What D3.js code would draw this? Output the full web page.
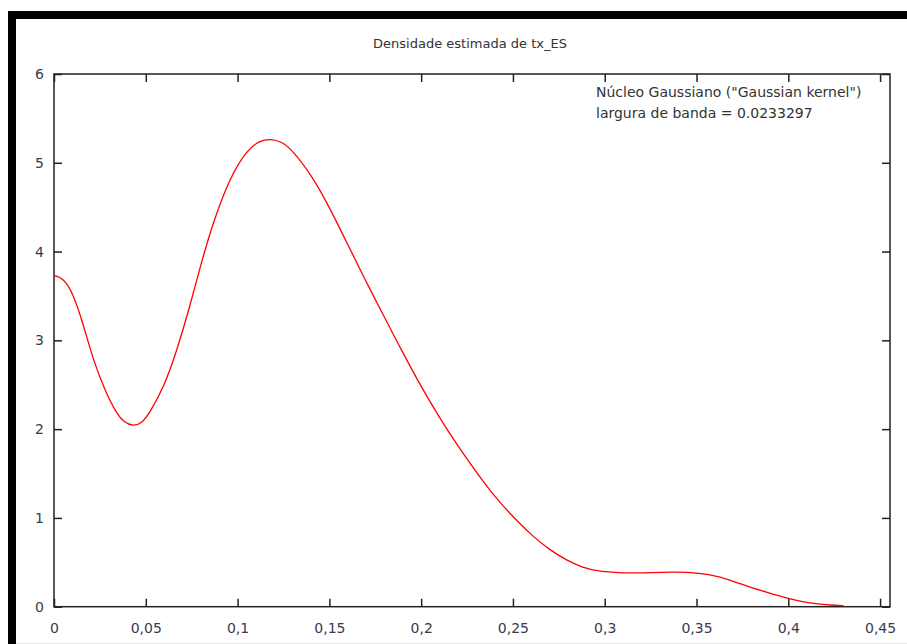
<!DOCTYPE html>
<html>
<head>
<meta charset="utf-8">
<script src="https://cdn.jsdelivr.net/npm/d3@7"></script>
<style>
  body { margin: 0; background: #fff; }
  svg text { font-family: "DejaVu Sans", Verdana, sans-serif; fill: #333; }
</style>
</head>
<body>
<svg id="chart" width="907" height="644"></svg>
<script>
// density curve
const xs = [0, 0.005, 0.01, 0.016, 0.021, 0.028, 0.034, 0.038, 0.043, 0.048, 0.052, 0.06, 0.067, 0.074, 0.08, 0.087, 0.096, 0.105, 0.112, 0.118, 0.124, 0.13, 0.141, 0.15, 0.16, 0.17, 0.178, 0.19, 0.201, 0.21, 0.219, 0.234, 0.243, 0.252, 0.261, 0.27, 0.279, 0.288, 0.297, 0.3156, 0.326, 0.337, 0.352, 0.362, 0.37, 0.38, 0.388, 0.399, 0.407, 0.415, 0.423, 0.43];
const density = [3.73, 3.70, 3.55, 3.18, 2.80, 2.42, 2.18, 2.08, 2.03, 2.07, 2.18, 2.48, 2.89, 3.38, 3.86, 4.35, 4.84, 5.14, 5.25, 5.27, 5.24, 5.14, 4.84, 4.50, 4.08, 3.66, 3.34, 2.86, 2.44, 2.13, 1.84, 1.40, 1.17, 0.97, 0.79, 0.64, 0.526, 0.44, 0.394, 0.376, 0.385, 0.392, 0.38, 0.34, 0.285, 0.215, 0.165, 0.098, 0.058, 0.032, 0.018, 0.012];

const xTicks = [0, 0.05, 0.1, 0.15, 0.2, 0.25, 0.3, 0.35, 0.4, 0.45];
const yTicks = [0, 1, 2, 3, 4, 5, 6];
const title = "Densidade estimada de tx_ES";
const legendLines = ["Núcleo Gaussiano (\"Gaussian kernel\")", "largura de banda = 0.0233297"];

const svg = d3.select("#chart");

// black frame of the screenshot
svg.append("rect").attr("x", 8).attr("y", 11).attr("width", 899).attr("height", 8).attr("fill", "#000");
svg.append("rect").attr("x", 8).attr("y", 11).attr("width", 8).attr("height", 633).attr("fill", "#000");
svg.append("line").attr("x1", 16).attr("x2", 907).attr("y1", 643.5).attr("y2", 643.5)
  .attr("stroke", "#e4e4e4");

const plot = {left: 54, right: 890, top: 74, bottom: 606.7};
const x = d3.scaleLinear().domain([0, 0.4554]).range([plot.left, plot.right]);
const y = d3.scaleLinear().domain([0, 6]).range([plot.bottom, plot.top]);

const fmt = d => String(d).replace(".", ",");
const tickLen = 8;

// bottom and top axes (ticks pointing inward)
svg.append("g").attr("transform", `translate(0,${plot.bottom})`)
  .call(d3.axisBottom(x).tickValues(xTicks).tickSize(-tickLen).tickPadding(16).tickFormat(fmt))
  .call(g => g.select(".domain").remove());
svg.append("g").attr("transform", `translate(0,${plot.top})`)
  .call(d3.axisTop(x).tickValues(xTicks).tickSize(-tickLen).tickFormat(""))
  .call(g => g.select(".domain").remove());
svg.append("g").attr("transform", `translate(${plot.left},0)`)
  .call(d3.axisLeft(y).tickValues(yTicks).tickSize(-tickLen).tickPadding(10).tickFormat(d3.format("d")))
  .call(g => g.select(".domain").remove());
svg.append("g").attr("transform", `translate(${plot.right},0)`)
  .call(d3.axisRight(y).tickValues(yTicks).tickSize(-tickLen).tickFormat(""))
  .call(g => g.select(".domain").remove());

svg.selectAll(".tick line").attr("stroke", "#222").attr("stroke-width", 1.5);
svg.selectAll(".tick text").attr("font-size", 14).style("fill", "#3a3a4a");

// plot border
svg.append("rect")
  .attr("x", plot.left).attr("y", plot.top)
  .attr("width", plot.right - plot.left).attr("height", plot.bottom - plot.top)
  .attr("fill", "none").attr("stroke", "#222").attr("stroke-width", 1.5);

// density line
const pts = xs.map((v, i) => [v, density[i]]);
svg.append("path")
  .datum(pts)
  .attr("fill", "none")
  .attr("stroke", "#ff0000")
  .attr("stroke-width", 1.3)
  .attr("d", d3.line().x(d => x(d[0])).y(d => y(d[1])).curve(d3.curveBasis));

svg.append("text")
  .attr("x", 470).attr("y", 48)
  .attr("text-anchor", "middle")
  .attr("font-size", 13)
  .text(title);

svg.selectAll(".legend")
  .data(legendLines)
  .join("text")
  .attr("x", 596)
  .attr("y", (d, i) => 97 + i * 21)
  .attr("font-size", 14)
  .text(d => d);
</script>
</body>
</html>
